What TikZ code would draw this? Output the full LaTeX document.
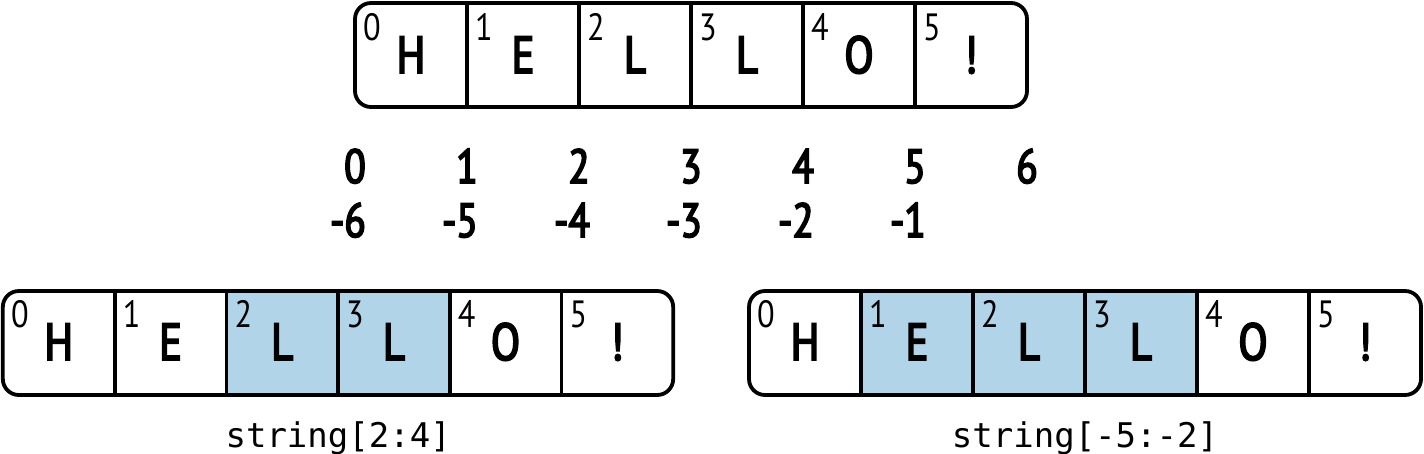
\documentclass[tikz,border=0pt]{standalone}
\usepackage{fontspec}
\newfontfamily\condfont{PT Sans}[FakeStretch=0.85]
\newfontfamily\condsemi{PT Sans}[FakeStretch=0.82, FakeBold=3.5]
\newfontfamily\codefont{DejaVu Sans Mono}
\definecolor{hlblue}{RGB}{178,212,233}
\tikzset{
  cell/.style={minimum width=112pt, minimum height=104pt, inner sep=0pt, outer sep=0pt},
  hl/.style={fill=hlblue},
  frame/.style={line width=3.8pt, rounded corners=16pt},
  divider/.style={line width=3.8pt},
  letter/.style={inner sep=0pt, font=\condsemi\fontsize{52}{52}\selectfont},
  idx/.style={inner sep=0pt, anchor=base west, font=\condfont\fontsize{38}{38}\selectfont},
  num/.style={inner sep=0pt, font=\condsemi\fontsize{48}{48}\selectfont},
  lbl/.style={inner sep=0pt, anchor=base, font=\codefont\fontsize{34}{34}\selectfont}
}
\begin{document}
\begin{tikzpicture}[x=1pt,y=-1pt]
\useasboundingbox (0,0) rectangle (1424,453);
% top array
\foreach \ch [count=\i from 0] in {H,E,L,L,O,!} {
  \node[cell] (t\i) at ({355+112*\i+56},55) {};
  \node[letter, anchor=base] (tl\i) at ({355+112*\i+56},73) {\ch};
  \node[idx] (ti\i) at ({355+112*\i+8},40) {\i};
}
\draw[frame] (t0.north west) rectangle (t5.south east);
\foreach \i in {0,...,4} \draw[divider] (t\i.north east) -- (t\i.south east);
% index rows
\foreach \i in {0,...,6} {
  \node[num, anchor=base] (p\i) at ({355+112*\i},183) {\i};
}
\foreach \k [count=\i from 0] in {6,5,4,3,2,1} {
  \node[num, anchor=base east] (n\i) at ({355+112*\i+11},237) {-\k};
}
% bottom left array
\foreach \ch [count=\i from 0] in {H,E,L,L,O,!} {
  \ifnum\i=2 \def\st{hl}\else\ifnum\i=3 \def\st{hl}\else\def\st{}\fi\fi
  \node[cell, \st] (a\i) at ({3+111.67*\i+55.83},343) {};
  \node[letter, anchor=base] (al\i) at ({3+111.67*\i+55.83},360) {\ch};
  \node[idx] (ai\i) at ({3+111.67*\i+8},327) {\i};
}
\draw[frame] (a0.north west) rectangle (a5.south east);
\foreach \i in {0,...,4} \draw[divider] (a\i.north east) -- (a\i.south east);
\node[lbl] (la) at (a2.south east |- 0,447) {string[2:4]};
% bottom right array
\foreach \ch [count=\i from 0] in {H,E,L,L,O,!} {
  \ifnum\i>0 \ifnum\i<4 \def\st{hl}\else\def\st{}\fi\else\def\st{}\fi
  \node[cell, \st] (b\i) at ({749+112*\i+56},343) {};
  \node[letter, anchor=base] (bl\i) at ({749+112*\i+56},360) {\ch};
  \node[idx] (bi\i) at ({749+112*\i+8},327) {\i};
}
\draw[frame] (b0.north west) rectangle (b5.south east);
\foreach \i in {0,...,4} \draw[divider] (b\i.north east) -- (b\i.south east);
\node[lbl] (lb) at (b2.south east |- 0,447) {string[-5:-2]};
\end{tikzpicture}
\end{document}
